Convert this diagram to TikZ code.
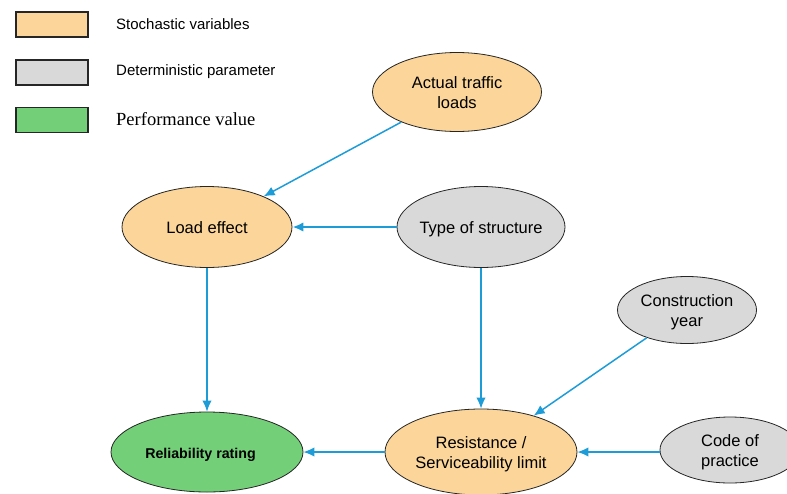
\documentclass[tikz,border=0pt]{standalone}
\usepackage{fontspec}
\setmainfont{Liberation Sans}
\newfontfamily\serifont{Liberation Serif}
\usetikzlibrary{shapes.geometric,arrows.meta}
\definecolor{orfill}{RGB}{251,213,153}
\definecolor{gyfill}{RGB}{217,217,217}
\definecolor{grfill}{RGB}{115,208,120}
\definecolor{arrblue}{RGB}{30,156,216}
\newcommand\zt[1]{\makebox[0pt]{\smash{\raisebox{-7pt}{\begin{tabular}{@{}c@{}}#1\end{tabular}}}}}
\begin{document}
\begin{tikzpicture}[x=1pt,y=-1pt,
  el/.style={ellipse, draw=black!85, line width=0.8pt, inner sep=0pt,
    font=\fontsize{16.5}{20}\selectfont},
  stoch/.style={el, fill=orfill},
  determ/.style={el, fill=gyfill},
  perf/.style={el, fill=grfill},
  legbox/.style={draw=black!85, line width=1.3pt, minimum width=72pt, minimum height=25pt, inner sep=0pt},
  legtext/.style={anchor=west, inner sep=0pt, font=\fontsize{15}{18}\selectfont},
  conn/.style={draw=arrblue, line width=1.5pt, -{Latex[length=11pt,width=9.5pt]}},
  thickconn/.style={conn, line width=2.6pt}
]
\useasboundingbox (0,0) rectangle (787,493);

% legend
\node[legbox, fill=orfill] (lb1) at (52,24.5) {};
\node[legbox, fill=gyfill] (lb2) at (52,72.5) {};
\node[legbox, fill=grfill] (lb3) at (52,120) {};
\node[legtext] (lt1) at (116,24) {Stochastic variables};
\node[legtext] (lt2) at (116,72) {Deterministic parameter};
\node[legtext, font=\serifont\fontsize{18.5}{22}\selectfont] (lt3) at (116,119) {Performance value};

% nodes
\node[stoch, minimum width=169pt, minimum height=79pt] (atl) at (457,92) {\zt{Actual traffic\\loads}};
\node[stoch, minimum width=170pt, minimum height=81pt] (le) at (207,227) {\zt{Load effect}};
\node[determ, minimum width=168pt, minimum height=81pt] (tos) at (481,227) {\zt{Type of structure}};
\node[determ, minimum width=139pt, minimum height=67pt] (cy) at (687,310) {\zt{Construction\\year}};
\node[perf, minimum width=192pt, minimum height=80pt, font=\bfseries\fontsize{14.2}{17}\selectfont] (rr) at (207,452) {\zt{Reliability rating\hspace*{13pt}}};
\node[stoch, minimum width=192pt, minimum height=86pt] (res) at (481,452) {\zt{Resistance /\\Serviceability limit}};
\node[determ, minimum width=140pt, minimum height=66pt] (cop) at (730,450) {\zt{Code of\\practice}};

% connectors
\draw[conn] (atl) -- (le);
\draw[thickconn] (tos) -- (le);
\draw[conn] (le.south) -- (rr.north);
\draw[conn] (tos.south) -- (res.north);
\draw[conn] (cy) -- (res);
\draw[conn] (res.west) -- (rr.east);
\draw[conn] (cop.west |- res.east) -- (res.east);
\end{tikzpicture}
\end{document}
